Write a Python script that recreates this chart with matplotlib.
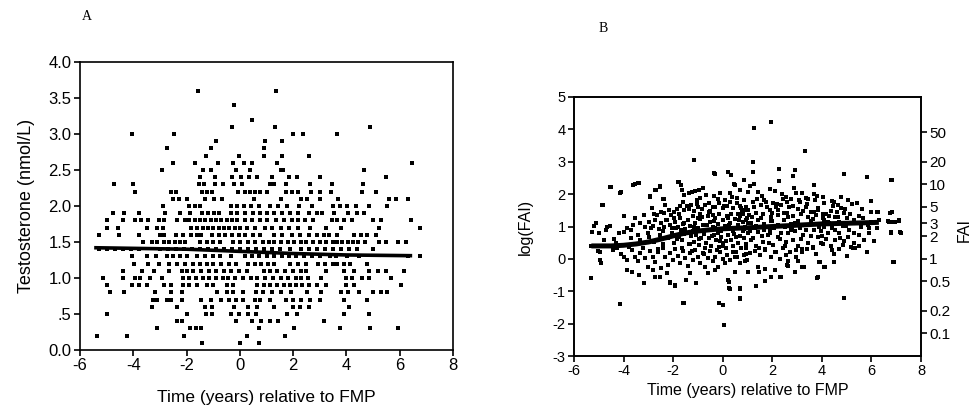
"""Testosterone and free androgen index against time relative to the final menstrual period."""

import matplotlib
matplotlib.use("Agg")
import matplotlib.pyplot as plt
from matplotlib.path import Path
import numpy as np

plt.rcParams["font.family"] = ["Liberation Sans", "DejaVu Sans"]
plt.rcParams["axes.unicode_minus"] = False

# Panel A: testosterone is recorded in 0.1 nmol/L steps, so the points come in rows.
# level -> times (years) of the points read off that row
rows_a = {
    3.6: [-1.58, 1.36],
    3.4: [-0.23],
    3.2: [0.45],
    3.1: [-0.29, 1.33, 4.87],
    3.0: [-4.05, -2.46, 2.0, 2.38, 3.66],
    2.9: [-0.88, 0.93, 1.57],
    2.8: [-2.74, -1.07, 0.90],
    2.7: [-1.28, -0.04, 0.90, 1.59, 2.6],
    2.6: [-2.51, -1.67, -0.83, -0.26, 0.15, 0.46, 1.38, 6.45],
    2.5: [-2.93, -1.38, -1.1, -0.16, 0.38, 1.54, 1.63, 4.67],
    2.4: [-1.5, -0.93, -0.31, 0.03, 0.34, 0.63, 1.19, 1.86, 2.16, 3.01, 5.48],
    2.3: [-4.72, -4.02, -1.52, -1.33, -0.92, -0.63, -0.23, 0.09, 1.15, 1.28,
          1.72, 2.63, 3.45, 4.64],
    2.2: [-3.93, -2.6, -2.4, -1.42, -1.25, -1.05, -0.08, 0.2, 0.38, 0.55, 0.75,
          1.03, 1.72, 1.95, 2.2, 2.66, 3.0, 3.41, 4.6, 5.1],
    2.1: [-2.51, -2.3, -1.98, -1.29, -0.98, -0.67, 0.52, 1.53, 2.28, 2.53, 3.0,
          3.69, 5.6, 5.86, 6.32],
    2.0: [-2.9, -1.92, -1.7, -1.48, -0.35, -0.1, 0.15, 0.4, 0.7, 1.15, 1.45,
          1.78, 2.22, 2.72, 3.5, 3.75, 4.04, 4.35, 4.85, 5.54],
    1.9: [-4.77, -4.33, -3.8, -2.8, -2.24, -1.88, -1.42, -1.2, -0.98, -0.8,
          -0.35, -0.1, 0.2, 0.5, 0.75, 1.0, 1.3, 1.6, 1.9, 2.2, 2.6, 2.9, 3.1,
          3.54, 4.06, 4.41, 4.67],
    1.8: [-5.0, -4.37, -3.95, -3.7, -3.45, -3.05, -2.85, -2.35, -2.05, -1.9,
          -1.7, -1.5, -1.3, -1.1, -0.9, -0.7, -0.5, -0.3, -0.1, 0.2, 0.45, 0.75,
          1.0, 1.35, 1.65, 1.95, 2.2, 2.45, 2.75, 3.45, 3.65, 3.9, 4.2, 5.0,
          5.3, 6.42],
    1.7: [-5.0, -4.56, -3.49, -3.11, -2.9, -1.85, -1.6, -1.4, -1.2, -1.0, -0.8,
          -0.6, -0.4, -0.2, 0.0, 0.25, 0.55, 0.95, 1.2, 1.55, 1.85, 2.2, 2.65,
          3.22, 3.79, 5.23, 6.77],
    1.6: [-5.27, -4.52, -3.8, -3.0, -2.85, -2.4, -2.15, -1.85, -1.6, -1.45,
          -1.05, -0.8, -0.55, -0.3, -0.05, 0.2, 0.5, 0.75, 1.3, 1.6, 1.95, 2.25,
          2.6, 2.9, 3.15, 3.35, 3.66, 4.3, 4.55, 4.79, 5.1],
    1.5: [-3.62, -3.3, -3.1, -2.85, -2.65, -2.45, -2.25, -2.05, -1.5, -1.25,
          -1.0, -0.73, -0.25, 0.0, 0.3, 0.55, 0.85, 1.1, 1.3, 1.55, 1.8, 2.05,
          2.3, 2.5, 2.75, 3.0, 3.25, 3.5, 3.65, 3.85, 4.05, 4.25, 4.45, 4.7,
          5.23, 5.48, 5.92, 6.23],
    1.4: [-5.3, -5.0, -4.7, -4.4, -4.1, -3.8, -3.0, -2.7, -2.4, -2.1, -1.8,
          -1.5, -1.2, -0.9, -0.6, -0.3, 0.0, 0.3, 0.6, 0.9, 1.2, 1.5, 1.9, 2.3,
          2.6, 2.9, 3.2, 3.5, 3.8, 4.1, 4.4, 5.0],
    1.3: [-4.05, -3.5, -3.15, -2.75, -2.5, -2.25, -2.0, -1.6, -1.3, -1.0,
          -0.73, -0.35, 0.2, 0.45, 0.7, 1.0, 1.3, 1.6, 1.85, 2.1, 2.4, 2.7,
          3.0, 3.4, 3.6, 4.04, 4.48, 6.3, 6.75],
    1.2: [-3.99, -3.43, -3.02, -2.65, -2.35, -2.05, -1.75, -1.5, -1.25, -1.0,
          -0.7, -0.4, -0.15, 0.3, 0.55, 0.8, 1.05, 1.3, 1.9, 2.2, 2.5, 2.95,
          3.2, 3.5, 3.65, 3.9, 4.15, 4.79],
    1.1: [-4.37, -3.68, -3.24, -2.67, -2.17, -2.0, -1.75, -1.45, -1.15, -0.9,
          -0.6, -0.35, -0.05, 0.28, 0.9, 1.15, 1.4, 1.7, 2.0, 2.3, 2.5, 3.22,
          3.91, 4.29, 4.85, 5.17, 5.48, 6.17],
    1.0: [-5.12, -4.4, -3.95, -3.75, -3.36, -2.93, -2.15, -1.9, -1.65, -1.4,
          -1.15, -0.9, -0.65, -0.45, -0.2, 0.1, 0.4, 0.65, 0.95, 1.25, 1.55,
          1.8, 2.1, 2.3, 2.55, 3.03, 3.97, 4.2, 4.6, 4.85, 5.67],
    0.9: [-4.97, -4.05, -3.8, -3.49, -2.85, -2.6, -2.15, -1.9, -1.6, -1.25,
          -1.0, -0.5, -0.25, 0.65, 0.9, 1.15, 1.4, 1.65, 1.9, 2.1, 2.35, 2.6,
          2.9, 3.22, 3.97, 4.29, 6.05],
    0.8: [-4.87, -4.34, -3.18, -2.59, -2.17, -0.85, -0.5, -0.25, 0.1, 0.6,
          0.85, 1.21, 1.53, 1.91, 2.53, 3.03, 3.8, 4.05, 4.48, 4.98, 5.29, 5.54],
    0.7: [-3.25, -3.1, -2.75, -2.6, -2.17, -1.45, -1.1, -0.7, -0.4, -0.15, 0.1,
          0.55, 0.75, 1.15, 1.72, 2.0, 2.3, 2.65, 3.0, 3.91, 4.79],
    0.6: [-3.3, -2.36, -1.29, -1.04, -0.23, 0.3, 0.65, 1.28, 2.0, 2.25, 2.6, 4.1],
    0.5: [-5.0, -1.98, -1.27, -1.04, -0.35, -0.05, 0.3, 0.6, 1.78, 2.16, 3.91,
          4.85],
    0.4: [-2.35, -2.17, -0.16, 0.46, 0.78, 1.15, 1.45, 3.16],
    0.3: [-3.11, -1.86, -1.65, -1.45, 0.71, 2.03, 3.76, 4.88, 5.95],
    0.2: [-5.35, -4.22, -2.11, 0.28, 1.69],
    0.1: [-1.42, 0.0, 0.71],
}

# smoothed testosterone curve (time, nmol/L)
curve_a_t = [-5.4, -2.0, 0.0, 2.0, 4.0, 6.4]
curve_a_v = [1.42, 1.40, 1.37, 1.34, 1.32, 1.31]

# Panel B: (time, log FAI) points
fai_outer = [
    (1.28, 4.04), (1.93, 4.22), (-1.16, 3.06), (1.24, 2.98), (3.30, 3.34),
    (0.01, -1.41), (0.04, -2.04), (-4.16, -1.40), (-1.60, -1.37), (0.71, -1.25),
    (4.91, -1.20), (-5.30, -0.58), (3.80, -0.58), (1.93, -0.55), (2.36, -0.55),
    (1.33, -0.84), (0.30, -0.92), (0.68, -0.94), (0.25, -0.70), (-3.18, -0.73),
    (-1.94, -0.84), (-1.47, -0.65), (-1.07, -0.75), (-2.14, -0.70), (6.90, -0.11),
    (4.89, 2.62), (5.83, 2.52), (6.84, 2.44), (2.27, 2.77), (2.90, 2.73),
    (-0.33, 2.63), (0.21, 2.67), (1.24, 2.67), (3.70, 2.29), (1.28, 2.31),
    (0.45, 2.31), (0.85, 2.44), (-4.50, 2.21), (-4.13, 2.05), (-3.62, 2.29),
    (-3.38, 2.34), (-2.71, 2.13), (-2.55, 2.26), (-1.77, 2.36), (-4.83, 1.67),
    (-2.95, 1.93), (-2.41, 1.85), (6.00, 1.79), (5.83, 0.21), (7.13, 1.18),
    (7.17, 0.82), (6.77, 0.82), (6.84, 1.45), (6.26, 1.46), (5.32, 0.33),
    (-5.30, 0.40), (-5.26, 0.82), (-4.94, -0.03), (-5.03, 0.23), (3.21, -0.24),
    (3.91, -0.10), (4.11, -0.24), (2.63, -0.21), (-5.10, 1.10), (-4.00, 1.33),
    (6.70, 1.15), (6.85, 1.15), (6.95, 1.15), (2.26, 2.77), (2.82, 2.56),
    (2.29, 2.41), (-1.58, -1.37), (-0.14, -1.35), (0.70, -1.21), (0.27, -0.90),
    (0.68, -0.90), (0.23, -0.65), (-3.86, -0.34), (-3.65, -0.39), (-3.39, -0.49),
    (-2.72, -0.55), (-2.54, -0.55), (-2.25, -0.44), (-1.94, -0.80), (1.35, -0.83),
    (1.71, -0.67), (2.33, -0.55), (3.83, -0.57), (1.01, -0.42), (1.48, -0.42),
    (2.09, -0.34), (6.89, -0.11), (6.75, 1.43), (6.78, 2.44),
]

fai_upper = [
    (-4.86, 1.67), (-4.53, 2.23), (-4.12, 2.08), (-3.55, 2.30), (-3.41, 2.34),
    (-2.72, 2.13), (-2.54, 2.23), (-2.92, 1.90), (-2.38, 1.84), (-2.31, 1.67),
    (-1.80, 2.36), (-1.68, 2.28), (-1.64, 2.13), (-1.58, 1.98), (-1.38, 2.05),
    (-1.24, 2.08), (-1.11, 2.11), (-0.97, 2.13), (-0.80, 2.18), (-0.66, 1.98),
    (-0.91, 1.87), (-1.04, 1.82), (-0.37, 1.94), (-0.10, 2.03), (0.10, 1.82),
    (0.37, 1.92), (0.57, 1.87), (0.70, 1.62), (0.84, 1.82), (0.86, 1.51),
    (-0.37, 2.64), (0.34, 2.59), (0.50, 2.28), (0.70, 2.13),
    (-3.99, 1.31), (-3.52, 1.26), (-3.18, 1.36), (-2.85, 1.56), (-2.78, 1.39),
    (-2.65, 1.36), (-2.49, 1.46), (-2.35, 1.41), (-2.18, 1.51), (-2.09, 1.36),
    (-1.98, 1.46), (-1.84, 1.53), (-1.74, 1.64), (-1.58, 1.51), (-1.44, 1.62),
    (-1.28, 1.67), (-1.15, 1.49), (-1.01, 1.59), (-0.84, 1.53), (-0.71, 1.67),
    (-0.57, 1.72), (-0.50, 1.49), (-0.30, 1.59), (-0.17, 1.74), (0.01, 1.56),
    (0.17, 1.64), (0.30, 1.77), (0.43, 1.56), (0.57, 1.72), (0.77, 1.46),
    (0.94, 1.59),
    (1.01, 2.08), (1.42, 2.08), (1.89, 2.15), (2.11, 2.11), (2.89, 2.18),
    (2.96, 2.05), (2.56, 1.90), (2.76, 1.84), (3.09, 1.82), (3.36, 1.87),
    (3.70, 2.01), (4.03, 1.92), (3.72, 1.82), (4.10, 1.74), (4.50, 1.77),
    (4.77, 1.90), (5.04, 1.82), (5.41, 1.72), (5.97, 1.79), (4.77, 1.56),
    (4.66, 1.67), (4.90, 1.43), (5.14, 1.38), (5.50, 1.31), (5.97, 1.46),
    (6.24, 1.46), (1.22, 1.77), (1.55, 1.67), (1.68, 1.82), (2.02, 1.72),
    (2.15, 1.59), (2.35, 1.67), (2.69, 1.59), (3.02, 1.53), (3.36, 1.59),
    (3.56, 1.46), (3.83, 1.51), (4.16, 1.39), (4.36, 1.49), (4.53, 1.29),
    (1.01, 1.51), (1.35, 1.43), (1.62, 1.39), (1.89, 1.51), (2.22, 1.36),
    (2.49, 1.43), (2.82, 1.31), (3.16, 1.39), (3.45, 1.29), (3.76, 1.36),
    (4.03, 1.26), (4.30, 1.33), (5.30, 1.20), (5.64, 1.26), (5.97, 1.15),
    (6.31, 1.20), (1.10, 2.25), (1.60, 1.95), (2.40, 2.00), (3.20, 2.05),
    (1.80, 1.60), (2.60, 1.75), (3.40, 1.70), (0.30, 2.05), (-0.20, 1.85),
    (-0.90, 1.40), (-0.40, 1.35), (0.60, 1.40), (1.20, 1.30), (2.00, 1.42),
]

fai_band = [
    (-5.20, 1.02), (-5.00, 0.79), (-4.66, 1.00), (-4.53, 1.02), (-3.99, 0.84),
    (-3.86, 0.95), (-3.70, 0.90), (-3.32, 1.10), (-3.12, 1.00), (-2.98, 1.15),
    (-2.81, 1.02), (-2.72, 1.20), (-2.58, 0.92), (-2.49, 1.10), (-2.38, 1.00),
    (-2.25, 1.20), (-2.14, 1.05), (-2.05, 0.95), (-1.91, 1.15), (-1.82, 1.00),
    (-1.71, 1.26), (-1.60, 1.08), (-1.51, 0.92), (-1.42, 1.20), (-1.31, 1.02),
    (-1.20, 1.31), (-1.11, 1.12), (-1.01, 0.95), (-0.91, 1.22), (-0.80, 1.05),
    (-0.71, 0.90), (-0.61, 1.31), (-0.50, 1.15), (-0.40, 1.00), (-0.30, 1.26),
    (-0.21, 1.08), (-0.10, 0.90), (0.01, 1.20), (0.10, 1.02), (0.19, 1.31),
    (0.30, 1.12), (0.41, 0.95), (0.50, 1.22), (0.60, 1.05), (0.70, 1.33),
    (0.81, 1.15), (0.90, 1.00), (0.97, 1.26),
    (0.95, 1.20), (1.15, 1.10), (1.42, 1.20), (1.68, 1.08), (1.95, 1.18),
    (2.22, 1.05), (2.49, 1.20), (2.76, 1.08), (3.02, 1.18), (3.29, 1.05),
    (3.56, 1.18), (3.83, 1.08), (4.10, 1.20), (4.39, 1.05), (4.70, 1.15),
    (4.97, 1.02), (5.24, 1.10), (5.57, 0.98), (5.87, 1.05), (6.22, 0.95),
    (6.67, 1.18), (7.11, 1.20), (6.78, 0.79), (7.18, 0.81),
    (-4.79, 0.59), (-4.32, 0.50), (-3.72, 0.64), (-3.32, 0.57), (-2.98, 0.69),
    (-2.78, 0.53), (-2.54, 0.74), (-2.41, 0.46), (-2.22, 0.64), (-2.05, 0.79),
    (-1.95, 0.50), (-1.78, 0.69), (-1.64, 0.57), (-1.55, 0.77), (-1.38, 0.46),
    (-1.28, 0.71), (-1.17, 0.53), (-1.07, 0.74), (-0.97, 0.43), (-0.88, 0.64),
    (-0.77, 0.77), (-0.66, 0.50), (-0.57, 0.64), (-0.48, 0.40), (-0.37, 0.74),
    (-0.26, 0.57), (-0.17, 0.38), (-0.08, 0.69), (0.03, 0.48), (0.14, 0.33),
    (0.23, 0.74), (0.33, 0.57), (0.43, 0.40), (0.54, 0.69), (0.63, 0.50),
    (0.74, 0.33), (0.84, 0.64), (0.94, 0.46),
    (1.01, 0.79), (1.22, 0.64), (1.42, 0.84), (1.62, 0.53), (1.82, 0.74),
    (2.02, 0.43), (2.22, 0.69), (2.42, 0.33), (2.62, 0.79), (2.82, 0.59),
    (3.02, 0.40), (3.23, 0.74), (3.43, 0.50), (3.63, 0.33), (3.83, 0.69),
    (4.03, 0.46), (4.23, 0.79), (4.39, 0.28), (4.53, 0.59), (4.70, 0.81),
    (4.87, 0.43), (5.04, 0.69), (5.24, 0.33), (5.50, 0.74), (5.71, 0.57),
    (-1.70, 0.90), (-1.20, 0.85), (-0.60, 0.88), (0.20, 0.92), (0.80, 0.86),
    (1.30, 0.95), (1.90, 0.92), (2.50, 0.97), (3.10, 0.95), (3.70, 0.90),
    (4.40, 0.95), (5.10, 0.88), (5.90, 0.80), (-0.20, 0.80), (1.60, 0.70),
    (2.90, 0.85), (3.90, 1.00), (-2.40, 0.85), (-3.00, 0.80), (-4.20, 0.80),
]

# the thickest part of the cloud, between about -2 and 5 years
fai_core = [
    (-1.95, 1.25), (-1.85, 0.62), (-1.75, 1.40), (-1.65, 0.35), (-1.55, 1.12),
    (-1.45, 0.80), (-1.35, 1.55), (-1.25, 0.25), (-1.15, 0.98), (-1.05, 1.70),
    (-0.95, 0.60), (-0.85, 1.30), (-0.75, 0.15), (-0.65, 1.05), (-0.55, 1.45),
    (-0.45, 0.72), (-0.35, 1.18), (-0.25, 0.28), (-0.15, 1.38), (-0.05, 0.85),
    (0.05, 1.62), (0.15, 0.55), (0.25, 1.05), (0.35, 1.40), (0.45, 0.78),
    (0.55, 0.22), (0.65, 1.20), (0.75, 1.58), (0.85, 0.92), (0.95, 0.15),
    (1.05, 1.35), (1.15, 0.58), (1.25, 1.60), (1.35, 1.02), (1.45, 0.35),
    (1.55, 1.25), (1.65, 0.88), (1.75, 1.75), (1.85, 0.48), (1.95, 1.30),
    (2.05, 0.95), (2.15, 0.22), (2.25, 1.50), (2.35, 0.80), (2.45, 1.85),
    (2.55, 0.52), (2.65, 1.28), (2.75, 0.90), (2.85, 1.62), (2.95, 0.28),
    (3.05, 1.05), (3.15, 0.62), (3.25, 1.48), (3.35, 0.90), (3.45, 1.85),
    (3.55, 0.72), (3.65, 1.22), (3.75, 0.15), (3.85, 1.58), (3.95, 0.85),
    (4.05, 1.40), (4.15, 0.62), (4.25, 1.15), (4.35, 0.40), (4.45, 1.62),
    (4.55, 0.90), (4.65, 1.30), (4.75, 0.65), (4.85, 1.02), (4.95, 1.55),
    (-1.90, 0.95), (-1.60, 1.75), (-1.30, 0.45), (-1.00, 1.25), (-0.70, 0.35),
    (-0.40, 1.60), (-0.10, 0.55), (0.20, 1.25), (0.50, 0.05), (0.80, 1.40),
    (1.10, 0.85), (1.40, 1.85), (1.70, 0.30), (2.00, 1.18), (2.30, 0.60),
    (2.60, 1.42), (2.90, 1.10), (3.20, 0.22), (3.50, 1.05), (3.80, 1.95),
    (4.10, 0.98), (4.40, 1.80), (4.70, 0.30), (5.00, 1.25), (5.30, 0.80),
    (5.60, 1.55), (5.90, 0.95), (6.10, 0.55), (-2.60, 0.30), (-2.30, 1.20),
    (-2.90, 0.95), (-3.40, 0.75), (-3.60, 1.05), (-4.40, 0.60), (-4.70, 0.90),
    (-0.30, 0.95), (0.00, 0.40), (0.40, 0.85), (0.70, 0.70), (1.00, 1.10),
    (1.30, 0.25), (1.60, 1.00), (1.90, 0.80), (2.20, 1.70), (2.50, 0.40),
    (2.80, 1.00), (3.10, 1.75), (3.40, 0.30), (3.70, 1.45), (4.00, 0.70),
    (4.30, 1.10), (4.60, 1.45), (4.90, 0.55), (5.20, 1.70), (5.50, 0.40),
]

fai_lower = [
    (-4.95, 0.20), (-4.93, -0.13), (-4.42, 0.28), (-4.26, 0.33), (-4.12, 0.16),
    (-3.99, 0.07), (-3.88, -0.03), (-3.79, 0.38), (-3.65, 0.26), (-3.52, 0.07),
    (-3.43, -0.08), (-3.32, 0.18), (-3.21, 0.33), (-3.12, 0.02), (-3.02, -0.24),
    (-2.92, 0.23), (-2.81, 0.07), (-2.72, -0.11), (-2.62, 0.20), (-2.51, -0.29),
    (-2.41, 0.33), (-2.31, 0.05), (-2.22, -0.19), (-2.11, 0.18), (-2.01, -0.03),
    (-1.91, 0.30), (-1.82, 0.09), (-1.71, -0.13), (-1.60, 0.23), (-1.51, 0.02),
    (-1.42, -0.22), (-1.31, 0.18), (-1.20, -0.03), (-1.11, 0.26), (-1.01, 0.07),
    (-0.91, -0.13), (-0.80, 0.18), (-0.71, -0.24), (-0.61, 0.02), (-0.50, 0.23),
    (-0.40, -0.08), (-0.30, 0.07), (-0.21, -0.24), (-0.10, 0.20), (0.01, -0.01),
    (0.10, -0.13), (0.19, 0.12), (0.30, -0.03), (0.43, 0.20), (0.57, 0.05),
    (0.70, -0.13), (0.84, 0.12), (0.97, -0.03),
    (0.95, 0.33), (1.12, 0.18), (1.35, 0.40), (1.52, 0.12), (1.71, 0.26),
    (1.93, 0.07), (2.11, 0.20), (2.33, -0.01), (2.56, 0.12), (2.73, 0.22),
    (2.96, 0.07), (3.19, 0.30), (3.63, 0.36), (3.96, 0.50), (4.47, 0.15),
    (5.17, 0.36), (5.30, 0.50), (5.84, 0.20),
    (0.88, -0.08), (1.42, -0.24), (2.60, -0.19), (2.62, -0.08), (3.02, -0.08),
    (3.27, -0.24), (3.90, -0.11), (4.10, -0.26), (-3.18, -0.73), (-2.14, -0.75),
    (-1.07, -0.73), (-0.60, -0.45), (-0.30, -0.35), (0.50, -0.40), (1.70, -0.30),
    (2.90, -0.40), (-1.30, -0.45), (-2.80, -0.35), (4.50, -0.10), (5.00, 0.10),
]

# smoothed log(FAI) curve
curve_b_t = [-5.3, -4.5, -4.0, -3.5, -3.0, -2.5, -2.0, -1.5, -1.0, -0.5, 0.0,
             1.0, 2.0, 3.0, 4.0, 5.0, 6.0, 6.3]
curve_b_v = [0.40, 0.40, 0.42, 0.46, 0.52, 0.61, 0.71, 0.80, 0.86, 0.90, 0.93,
             0.96, 1.00, 1.04, 1.08, 1.10, 1.12, 1.13]

ticks_a_y = [0.0, 0.5, 1.0, 1.5, 2.0, 2.5, 3.0, 3.5, 4.0]
labels_a_y = ["0.0", ".5", "1.0", "1.5", "2.0", "2.5", "3.0", "3.5", "4.0"]
fai_right_labels = ["50", "20", "10", "5", "3", "2", "1", "0.5", "0.2", "0.1"]
fai_right_values = [50, 20, 10, 5, 3, 2, 1, 0.5, 0.2, 0.1]

W, H = 975, 408
fig = plt.figure(figsize=(W / 100, H / 100), dpi=100)

# the scanned dots in panel A are a little wider than tall
dot = Path([(-1, -0.8), (1, -0.8), (1, 0.8), (-1, 0.8), (-1, -0.8)],
           [Path.MOVETO, Path.LINETO, Path.LINETO, Path.LINETO, Path.CLOSEPOLY])


def px_axes(left, top, right, bottom):
    return fig.add_axes([left / W, 1 - bottom / H, (right - left) / W, (bottom - top) / H])


def style(ax, size):
    for s in ax.spines.values():
        s.set_linewidth(1.2)
    ax.tick_params(direction="out", length=4, width=1.2, labelsize=size, pad=2)


# ---- panel A ----
ax_a = px_axes(80, 62, 453, 350)
xa, ya = [], []
for level, times in rows_a.items():
    xa.extend(times)
    ya.extend([level] * len(times))
ax_a.scatter(xa, ya, s=8, marker=dot, color="black", linewidths=0)
ax_a.plot(curve_a_t, curve_a_v, color="black", lw=2.6, zorder=3)
ax_a.set_xlim(-6, 8)
ax_a.set_ylim(0, 4)
ax_a.set_xticks(range(-6, 9, 2))
ax_a.set_yticks(ticks_a_y)
ax_a.set_yticklabels(labels_a_y)
style(ax_a, 12)
ax_a.set_xlabel("Time (years) relative to FMP", fontsize=12.5, labelpad=12)
ax_a.set_ylabel("Testosterone (nmol/L)", fontsize=13, labelpad=10)
fig.text(82 / W, 1 - 17 / H, "A", family="Liberation Serif", fontsize=10, va="center")

# ---- panel B ----
ax_b = px_axes(574, 97, 921, 356)
pts_b = np.array(fai_outer + fai_upper + fai_band + fai_core + fai_lower)
ax_b.scatter(pts_b[:, 0], pts_b[:, 1], s=5.5, marker="s", color="black", linewidths=0)
ax_b.plot(curve_b_t, curve_b_v, color="black", lw=3.6, zorder=3,
          solid_capstyle="butt")
ax_b.set_xlim(-6, 8)
ax_b.set_ylim(-3, 5)
ax_b.set_xticks(range(-6, 9, 2))
ax_b.set_yticks(range(-3, 6))
style(ax_b, 10.5)
ax_b.set_xlabel("Time (years) relative to FMP", fontsize=11.5, labelpad=3)
ax_b.set_ylabel("log(FAI)", fontsize=11.5, labelpad=14)

ax_r = ax_b.twinx()
ax_r.set_ylim(-3, 5)
ax_r.set_yticks(np.log(fai_right_values))
ax_r.set_yticklabels(fai_right_labels)
style(ax_r, 11)
fig.text(964 / W, 1 - 230 / H, "FAI", fontsize=11.5, rotation=90, va="center", ha="center")
fig.text(599 / W, 1 - 28 / H, "B", family="Liberation Serif", fontsize=10, va="center")

fig.savefig("out.png", dpi=100)
